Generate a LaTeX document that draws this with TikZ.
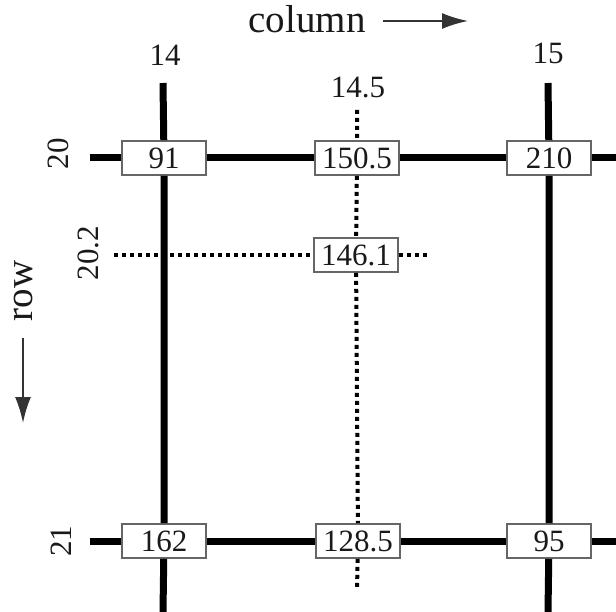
\documentclass[tikz,border=0pt]{standalone}
\usepackage{fontspec}
\setmainfont{Liberation Serif}
\usetikzlibrary{arrows.meta}
\begin{document}
\begin{tikzpicture}[x=1pt,y=-1pt,
  valbox/.style={draw=black!60, line width=1.8pt, fill=white, minimum width=84pt, minimum height=34pt, inner sep=0pt, text=black!90, font=\fontsize{31}{31}\selectfont},
  numlabel/.style={inner sep=0pt, text=black!90, font=\fontsize{31}{31}\selectfont},
  biglabel/.style={inner sep=0pt, text=black!90, font=\fontsize{39}{39}\selectfont},
  gridline/.style={line width=7pt, black},
  interline/.style={line width=4pt, black, dash pattern=on 4pt off 4pt},
  dirarrow/.style={line width=2pt, black!80, -{Latex[length=26pt,width=16pt]}}]
\useasboundingbox (0,0) rectangle (616,612);
% coordinates for free ends
\coordinate (c14T) at (163,83);
\coordinate (c14B) at (163,612);
\coordinate (c15T) at (548,83);
\coordinate (c15B) at (548,612);
\coordinate (c145T) at (357,110);
\coordinate (c145B) at (357,590);
\coordinate (r20L) at (90,158);
\coordinate (r20R) at (616,158);
\coordinate (r21L) at (90,541);
\coordinate (r21R) at (616,541);
\coordinate (r202L) at (114,255);
\coordinate (r202R) at (430,255);
\coordinate (colA) at (383,21);
\coordinate (colB) at (468,21);
\coordinate (rowA) at (23,338);
\coordinate (rowB) at (23,423);
% boxes
\node[valbox] (b91) at (164,158) {91};
\node[valbox] (b150) at (357,158) {150.5};
\node[valbox] (b210) at (549,158) {210};
\node[valbox] (b146) at (356,255) {146.1};
\node[valbox] (b162) at (164,541) {162};
\node[valbox] (b128) at (358,541) {128.5};
\node[valbox] (b95) at (549,541) {95};
% lines
\draw[gridline] (c14T) -- (b91) -- (b162) -- (c14B);
\draw[gridline] (c15T) -- (b210) -- (b95) -- (c15B);
\draw[gridline] (r20L) -- (b91) -- (b150) -- (b210) -- (r20R);
\draw[gridline] (r21L) -- (b162) -- (b128) -- (b95) -- (r21R);
\draw[interline] (c145T) -- (b150) -- (b146) -- (b128) -- (c145B);
\draw[interline] (r202L) -- (b146) -- (r202R);
% labels
\node[biglabel, anchor=base] (col) at (307,33) {column};
\draw[dirarrow] (colA) -- (colB);
\node[biglabel, rotate=90] (row) at (24,291) {row};
\draw[dirarrow] (rowA) -- (rowB);
\node[numlabel] (l14) at (165,55) {14};
\node[numlabel] (l15) at (548,53) {15};
\node[numlabel] (l145) at (358,87) {14.5};
\node[numlabel, rotate=90] (l20) at (58,154) {20};
\node[numlabel, rotate=90] (l202) at (88,253) {20.2};
\node[numlabel, rotate=90] (l21) at (61,541) {21};
\end{tikzpicture}
\end{document}
